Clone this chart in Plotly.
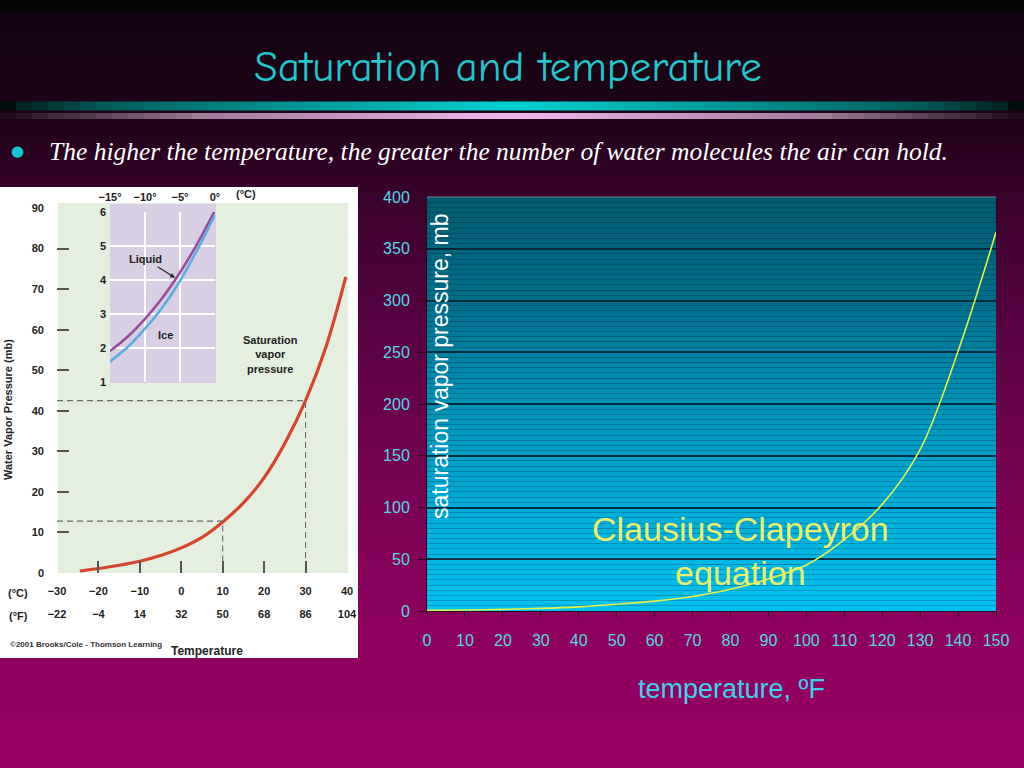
import plotly.graph_objects as go

W, H = 1024, 768

# ---------------- data ----------------
# right chart: saturation vapour pressure (mb) vs temperature (F)
temp_f = [0, 10, 20, 30, 40, 50, 60, 70, 80, 90, 100, 110, 120, 130, 140, 150]
svp_mb = [0.6, 1.0, 1.6, 2.5, 4.0, 6.5, 9.5, 14, 21, 31, 44.5, 69, 103, 156, 251, 366]
f_ticks = list(range(0, 151, 10))
mb_ticks = list(range(0, 401, 50))

# left (textbook) chart
book_temp_c = [-24.5, -20, -15, -10, -5, 0, 5, 10, 15, 20, 25, 30, 35, 39.7]
book_vp_mb = [0.5, 1.1, 1.9, 2.9, 4.3, 6.2, 8.8, 12.6, 17.3, 23.5, 32, 42.5, 56, 73]
c_ticks = [-30, -20, -10, 0, 10, 20, 30, 40]
f_equiv = [-22, -4, 14, 32, 50, 68, 86, 104]
c_marks = [-20, -10, 0, 10, 20, 30]
vp_ticks = [0, 10, 20, 30, 40, 50, 60, 70, 80, 90]
vp_marks = [10, 20, 30, 40, 50, 60, 70, 80]
guide_c = [10, 30]
guide_vp = [12.8, 42.5]

# inset: liquid vs ice below freezing
inset_c = [-15, -12.5, -10, -7.5, -5, -2.5, 0]
liquid_mb = [1.91, 2.33, 2.86, 3.48, 4.22, 5.08, 6.05]
ice_mb = [1.6, 2.02, 2.57, 3.2, 3.97, 4.9, 5.92]
inset_c_ticks = [-15, -10, -5, 0]
inset_c_grid = [-10, -5]
inset_mb_ticks = [1, 2, 3, 4, 5, 6]
inset_mb_grid = [2, 3, 4, 5]


def minus(v):
    return str(v).replace('-', '\u2212')


# ---------------- helpers for gradients ----------------
def hex2rgb(h):
    return tuple(int(h[i:i + 2], 16) for i in (1, 3, 5))


def interp(stops, t):
    for (p0, c0), (p1, c1) in zip(stops, stops[1:]):
        if p0 <= t <= p1:
            f = (t - p0) / (p1 - p0) if p1 > p0 else 0
            a, b = hex2rgb(c0), hex2rgb(c1)
            return 'rgb(%d,%d,%d)' % tuple(round(a[i] + (b[i] - a[i]) * f) for i in range(3))
    return stops[-1][1]


def px(x):
    return x / W


def py(y):
    return 1 - y / H


shapes = []


def vgrad(x0, x1, y0, y1, stops, n):
    h = (y1 - y0) / n
    for i in range(n):
        a = y0 + i * h
        b = min(y1, a + h + 0.6)
        shapes.append(dict(type='rect', xref='paper', yref='paper', layer='below',
                           x0=px(x0), x1=px(x1), y0=py(b), y1=py(a),
                           fillcolor=interp(stops, a + h / 2), line=dict(width=0)))


def hgrad(x0, x1, y0, y1, stops, n):
    w = (x1 - x0) / n
    for i in range(n):
        a = x0 + i * w
        b = min(x1, a + w + 0.6)
        shapes.append(dict(type='rect', xref='paper', yref='paper', layer='below',
                           x0=px(a), x1=px(b), y0=py(y1), y1=py(y0),
                           fillcolor=interp(stops, a + w / 2), line=dict(width=0)))


def rect(x0, y0, x1, y1, color):
    shapes.append(dict(type='rect', xref='paper', yref='paper', layer='below',
                       x0=px(x0), x1=px(x1), y0=py(y1), y1=py(y0),
                       fillcolor=color, line=dict(width=0)))


# slide background
vgrad(0, W, 0, H, [(0, '#050505'), (11, '#050505'), (13, '#130410'), (100, '#1c0317'),
                   (150, '#280220'), (200, '#3a022c'), (300, '#52023e'), (400, '#68024a'),
                   (500, '#7a0254'), (600, '#8a025c'), (768, '#980062')], 128)
# title rules
hgrad(0, W, 101.5, 110.5, [(0, '#000000'), (20, '#002220'), (100, '#005a58'), (200, '#007a78'),
                           (512, '#00d2d2'), (824, '#007a78'), (924, '#005a58'), (1004, '#002220'),
                           (1024, '#000000')], 64)
hgrad(0, W, 113, 119, [(0, '#1a0818'), (50, '#3a2838'), (200, '#a07898'), (512, '#f4b6f0'),
                       (824, '#a07898'), (974, '#3a2838'), (1024, '#1a0818')], 64)
# left textbook panel
rect(0, 187, 358, 658, '#ffffff')
rect(58, 203, 348, 573, '#e4efe0')
rect(110, 204, 216, 383, '#d8cfe4')
# right plot area
vgrad(427, 996, 197, 611, [(197, '#005a6e'), (300, '#006e8a'), (400, '#0090b4'),
                           (500, '#00aad4'), (611, '#00c2f2')], 80)
shapes.append(dict(type='line', xref='paper', yref='paper', layer='below',
                   x0=px(427), x1=px(996), y0=py(197), y1=py(197),
                   line=dict(color='#6a8c98', width=1)))

# ---------------- domains ----------------
dom_rx = [px(427), px(996)]
dom_ry = [py(611), py(197)]
dom_lx = [px(57), px(347)]
dom_ly = [py(573), py(208)]
dom_ix = [px(110), px(215)]
dom_iy = [py(382), py(212)]

fig = go.Figure()

# right chart curve
fig.add_trace(go.Scatter(x=temp_f, y=svp_mb, mode='lines', xaxis='x', yaxis='y',
                         line=dict(color='#e2f248', width=1.6, shape='spline', smoothing=1.0),
                         hoverinfo='skip', showlegend=False))

# left chart curve
fig.add_trace(go.Scatter(x=book_temp_c, y=book_vp_mb, mode='lines', xaxis='x2', yaxis='y2',
                         line=dict(color='#d8432c', width=3.2, shape='spline', smoothing=1.0),
                         hoverinfo='skip', showlegend=False))
gx, gy = [], []
for c, v in zip(guide_c, guide_vp):
    gx += [c_ticks[0], c, c, None]
    gy += [v, v, vp_ticks[0], None]
fig.add_trace(go.Scatter(x=gx, y=gy, mode='lines', xaxis='x2', yaxis='y2',
                         line=dict(color='#6a6a6a', width=1.1, dash='6px,4px'),
                         hoverinfo='skip', showlegend=False))

# inset curves
fig.add_trace(go.Scatter(x=inset_c, y=liquid_mb, mode='lines', xaxis='x3', yaxis='y3',
                         line=dict(color='#9a4d9c', width=2.6, shape='spline'),
                         hoverinfo='skip', showlegend=False))
fig.add_trace(go.Scatter(x=inset_c, y=ice_mb, mode='lines', xaxis='x3', yaxis='y3',
                         line=dict(color='#5aaee2', width=2.6, shape='spline'),
                         hoverinfo='skip', showlegend=False))

# dummy traces for overlay axes
for xa, ya in [('x4', 'y2'), ('x5', 'y2'), ('x2', 'y4'), ('x6', 'y3'), ('x3', 'y6')]:
    fig.add_trace(go.Scatter(x=[0], y=[1] if ya in ('y3', 'y6') else [0], mode='markers',
                             xaxis=xa, yaxis=ya, marker=dict(opacity=0, size=1),
                             hoverinfo='skip', showlegend=False))

cyan_tick = '#55d6ea'
dark = '#2a0a22'
book_font = dict(family='Liberation Sans, Arial', size=11, color='#222222', weight='bold')

fig.update_layout(
    width=W, height=H,
    margin=dict(l=0, r=0, t=0, b=0, pad=0),
    autosize=False,
    paper_bgcolor='#000000', plot_bgcolor='rgba(0,0,0,0)',
    showlegend=False,
    shapes=shapes,
    xaxis=dict(domain=dom_rx, anchor='y', range=[0, 150], tickmode='array', tickvals=f_ticks,
               ticks='outside', ticklen=5, tickcolor=dark, showline=True, linecolor=dark,
               showgrid=False, zeroline=False, ticklabelstandoff=10,
               tickfont=dict(family='Liberation Sans, Arial', size=16, color=cyan_tick)),
    yaxis=dict(domain=dom_ry, anchor='x', range=[0, 400], tickmode='array', tickvals=mb_ticks,
               ticks='outside', ticklen=8, tickcolor=dark, showline=True, linecolor=dark,
               showgrid=True, gridcolor='rgba(0,32,46,0.85)', gridwidth=1.5, zeroline=False,
               ticklabelstandoff=5,
               minor=dict(dtick=5, tick0=0, showgrid=True, gridcolor='rgba(0,30,50,0.24)', gridwidth=1),
               tickfont=dict(family='Liberation Sans, Arial', size=16, color=cyan_tick)),
    # textbook chart
    xaxis2=dict(domain=dom_lx, anchor='y2', range=[-30, 40], tickmode='array', tickvals=c_ticks,
                ticktext=[minus(v) for v in c_ticks], ticks='', showline=False, showgrid=False,
                zeroline=False, ticklabelstandoff=10, tickfont=book_font),
    xaxis4=dict(overlaying='x2', anchor='y2', range=[-30, 40], tickmode='array', tickvals=c_ticks,
                ticktext=[minus(v) for v in f_equiv], ticks='', showline=False, showgrid=False,
                zeroline=False, ticklabelstandoff=33, tickfont=book_font),
    xaxis5=dict(overlaying='x2', anchor='y2', range=[-30, 40], tickmode='array', tickvals=c_marks,
                ticks='inside', ticklen=12, tickwidth=1.5, tickcolor='#555555',
                showticklabels=False, showline=False, showgrid=False, zeroline=False),
    yaxis2=dict(domain=dom_ly, anchor='x2', range=[0, 90], tickmode='array', tickvals=vp_ticks,
                ticks='', showline=False, showgrid=False, zeroline=False,
                ticklabelstandoff=12, tickfont=book_font),
    yaxis4=dict(overlaying='y2', anchor='x2', range=[0, 90], tickmode='array', tickvals=vp_marks,
                ticks='inside', ticklen=12, tickwidth=1.5, tickcolor='#555555',
                showticklabels=False, showline=False, showgrid=False, zeroline=False),
    # inset
    xaxis3=dict(domain=dom_ix, anchor='y3', side='top', range=[-15, 0], tickmode='array',
                tickvals=inset_c_ticks, ticktext=[minus(v) + '\u00b0' for v in inset_c_ticks],
                ticks='', showline=False, showgrid=False, zeroline=False,
                ticklabelstandoff=8, tickfont=book_font),
    xaxis6=dict(overlaying='x3', anchor='y3', range=[-15, 0], tickmode='array', tickvals=inset_c_grid,
                showticklabels=False, ticks='', showline=False, showgrid=True,
                gridcolor='#ffffff', gridwidth=2, zeroline=False),
    yaxis3=dict(domain=dom_iy, anchor='x3', range=[1, 6], tickmode='array', tickvals=inset_mb_ticks,
                ticks='', showline=False, showgrid=False, zeroline=False,
                ticklabelstandoff=3, tickfont=book_font),
    yaxis6=dict(overlaying='y3', anchor='x3', range=[1, 6], tickmode='array', tickvals=inset_mb_grid,
                showticklabels=False, ticks='', showline=False, showgrid=True,
                gridcolor='#ffffff', gridwidth=2, zeroline=False),
)
fig.update_xaxes(automargin=False)
fig.update_yaxes(automargin=False)

ann = []


def note(text, x, y, size, color, family='Liberation Sans, Arial', xanchor='center',
         weight='normal', style='normal', angle=0):
    ann.append(dict(text=text, x=px(x), y=py(y), xref='paper', yref='paper', showarrow=False,
                    xanchor=xanchor, yanchor='middle', textangle=angle,
                    font=dict(family=family, size=size, color=color, weight=weight, style=style)))


note('Saturation and temperature', 508, 67, 43, '#22c6cc',
     family='Comic Sans MS, Comic Neue, Open Sans, sans-serif')
note('\u25cf', 17, 151, 15, '#12c8d8', family='DejaVu Sans')
note('The higher the temperature, the greater the number of water molecules the air can hold.',
     47, 151, 25.5, '#ffffff', family='Liberation Serif, Times New Roman, serif',
     xanchor='left', style='italic')
note('(\u00b0C)', 18, 593, 11, '#222222', weight='bold')
note('(\u00b0F)', 18, 616, 11, '#222222', weight='bold')
note('Water Vapor Pressure (mb)', 8, 410, 11, '#222222', weight='bold', angle=-90)
note('Saturation<br>vapor<br>pressure', 270, 355, 11, '#222222', weight='bold')
note('Ice', 165, 335, 11, '#222222', weight='bold')
note('(\u00b0C)', 246, 194, 11, '#222222', weight='bold')
note('\u00a92001 Brooks/Cole - Thomson Learning', 8, 644, 8, '#333333', xanchor='left', weight='bold')
note('Temperature', 207, 651, 12, '#222222', weight='bold')
note('saturation vapor pressure, mb', 440, 366, 23, '#ffffff', angle=-90)
note('Clausius-Clapeyron<br>equation', 740, 551, 34, '#eef06a')
note('temperature, \u00baF', 731, 689, 27, '#3cd2f0')

# "Liquid" label pointing at the liquid curve
ann.append(dict(text='Liquid', x=-5.6, y=4.05, xref='x3', yref='y3', showarrow=True,
                ax=-30, ay=-19, arrowhead=2, arrowsize=0.8, arrowwidth=1.2, arrowcolor='#222222',
                standoff=1, font=dict(family='Liberation Sans, Arial', size=11, color='#222222',
                                      weight='bold')))

fig.update_layout(annotations=ann)
fig.write_html('out.html', config={'displayModeBar': False},
               post_script="document.body.style.margin='0';document.body.style.overflow='hidden';")
